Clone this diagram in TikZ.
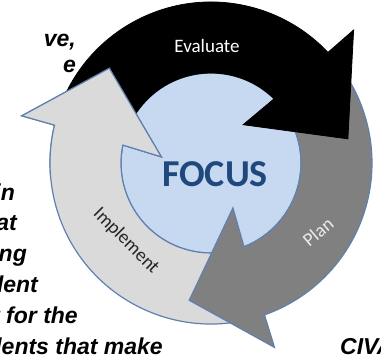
\documentclass[tikz,border=0pt]{standalone}
\usepackage{fontspec}
\setmainfont{Liberation Sans}
\newfontfamily\labelfont{Carlito}
\definecolor{hubblue}{RGB}{198,217,240}
\definecolor{rimblue}{RGB}{96,128,176}
\definecolor{focusblue}{RGB}{31,73,125}
\definecolor{darkgrey}{RGB}{128,128,128}
\definecolor{lightgrey}{RGB}{218,218,218}
\tikzset{
  hub/.style={draw=rimblue, line width=1.2pt, fill=hubblue},
  evalarrow/.style={draw=black, line width=0.8pt, fill=black, line join=miter},
  planarrow/.style={draw=rimblue, line width=1.2pt, fill=darkgrey, line join=miter},
  implarrow/.style={draw=rimblue, line width=1.2pt, fill=lightgrey, line join=miter},
  ringlabel/.style={font=\labelfont\fontsize{19}{19}\selectfont, inner sep=0pt},
  bodytext/.style={font=\bfseries\itshape\fontsize{23}{23}\selectfont, inner sep=0pt},
}
% one curved arrow of the cycle:
% #1 style, #2 tail angle, #3 angle of the head's back edge, #4 angle of the point
\newcommand{\cyclearrow}[4]{%
  \draw[#1] (#2:161) arc[start angle=#2, end angle={#3-2.6}, radius=161]
    -- ({#3-3}:195) -- (#4:139) -- ({#3+4}:50) -- ({#3-0.5}:90)
    arc[start angle={#3-0.5}, end angle=#2, radius=90] -- cycle;}

\begin{document}
\begin{tikzpicture}[x=1pt,y=1pt]
  \useasboundingbox (0,0) rectangle (381,360);
  \clip (0,0) rectangle (381,360);

  % paragraph running round the graphic
  \node[bodytext, anchor=base east] (wrap1) at (76,314) {ve,};
  \node[bodytext, anchor=base east] (wrap2) at (76,288) {e};
  \node[bodytext, anchor=base east] (wrap3) at (15,160) {in};
  \node[bodytext, anchor=base east] (wrap4) at (17,130) {at};
  \node[bodytext, anchor=base east] (wrap5) at (27,99) {ing};
  \node[bodytext, anchor=base east] (wrap6) at (38,68) {dent};
  \node[bodytext, anchor=base east] (wrap7) at (78,37) {t for the};
  \node[bodytext, anchor=base east] (wrap8) at (163,6) {dents that make};
  \node[bodytext, anchor=base west] (civa) at (340,6) {CIVA};

  \begin{scope}[shift={(211,197)}]
    \draw[hub] (0,0) circle[radius=90];
    \cyclearrow{implarrow}{288}{169}{137}
    \cyclearrow{planarrow}{42}{-68}{-99}
    \cyclearrow{evalarrow}{165}{46}{10}
    % head of Implement sits over the tail of Evaluate
    \begin{scope}
      \clip (0,0) -- (120:300) -- (185:300) -- cycle;
      \cyclearrow{implarrow}{288}{169}{137}
    \end{scope}

    \node[ringlabel, text=white] (evaluate) at (-4,117.5) {Evaluate};
    \node[ringlabel, text=white!92!black, rotate=40] (plan) at (107,-69) {Plan};
    \node[ringlabel, text=black!85, rotate=-45] (implement) at (-85,-78) {Implement};
    \node[font=\labelfont\bfseries\fontsize{38}{38}\selectfont, text=focusblue,
      inner sep=0pt] (focus) at (4,-11) {FOCUS};
  \end{scope}
\end{tikzpicture}
\end{document}
